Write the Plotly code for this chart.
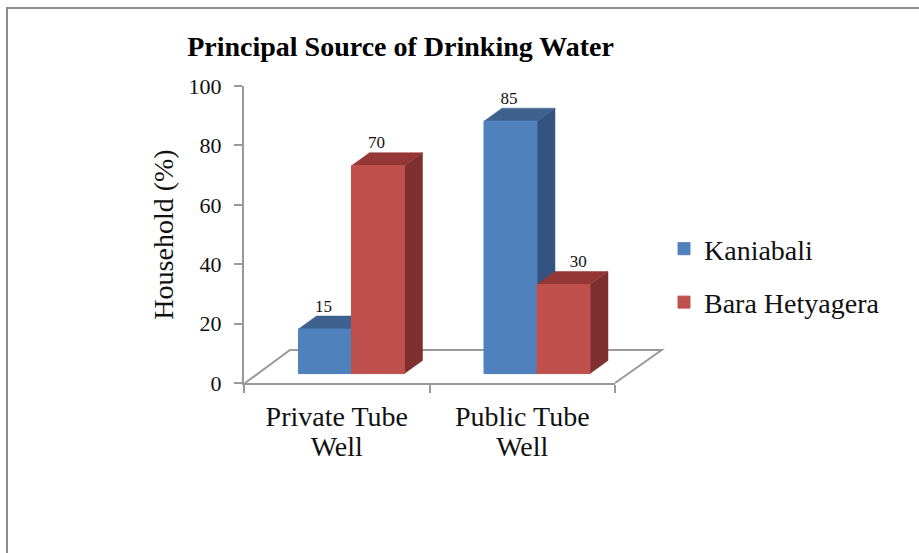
import plotly.graph_objects as go

categories = ["Private Tube<br>Well", "Public Tube<br>Well"]
series_names = ["Kaniabali", "Bara Hetyagera"]
kaniabali = [15, 85]
bara_hetyagera = [70, 30]
y_ticks = [0, 20, 40, 60, 80, 100]

W, H = 919, 553
L, R, T, B = 244, 615, 86, 383
FONT = "Liberation Serif"
TXT = "#111111"
AXIS = "#999999"
BLUE, BLUE_TOP, BLUE_SIDE = "#4F81BD", "#3E618E", "#335380"
RED, RED_TOP, RED_SIDE = "#C0504D", "#943735", "#7D302E"

BASE = 3.17          # lift of the bars above the floor front edge
BAR_W = 0.2857
SHIFT = 0.0795
DX, DY = 0.097, 4.38 # depth of the 3D extrusion in axis units

xs = [0, 1]
LABEL_NUDGE = {"k": [-0.008, -0.008], "b": [-0.008, 0.08]}  # label placement, in axis units


def px(x):
    return (x - L) / (R - L)


def py(y):
    return (B - y) / (B - T)


def face(points, color):
    path = "M " + " L ".join(f"{x} {y}" for x, y in points) + " Z"
    return dict(type="path", xref="x", yref="y", layer="below", path=path,
                fillcolor=color, line=dict(color=color, width=0.5))


shapes = [
    # outer frame: top and left only
    dict(type="path", xref="paper", yref="paper", layer="below",
         path=f"M {px(7)} {py(H + 5)} L {px(7)} {py(8)} L {px(W + 5)} {py(8)}",
         line=dict(color="#8C8C8C", width=2)),
    # chart floor
    dict(type="path", xref="paper", yref="paper", layer="below",
         path=f"M {px(245)} {py(383)} L {px(290)} {py(350)} L {px(661.7)} {py(350)} L {px(615)} {py(383)}",
         line=dict(color=AXIS, width=2)),
]

for values, offset, top_c, side_c in (
    (kaniabali, SHIFT - BAR_W, BLUE_TOP, BLUE_SIDE),
    (bara_hetyagera, SHIFT, RED_TOP, RED_SIDE),
):
    for x, v in zip(xs, values):
        x0, x1 = x + offset, x + offset + BAR_W
        t = BASE + v
        shapes.append(face([(x1, BASE), (x1 + DX, BASE + DY), (x1 + DX, t + DY), (x1, t)], side_c))
        shapes.append(face([(x0, t), (x1, t), (x1 + DX, t + DY), (x0 + DX, t + DY)], top_c))

fig = go.Figure()

for name, values, offset, color in (
    (series_names[0], kaniabali, SHIFT - BAR_W, BLUE),
    (series_names[1], bara_hetyagera, SHIFT, RED),
):
    fig.add_trace(go.Bar(
        x=xs, y=values, base=BASE, name=name, width=BAR_W, offset=offset,
        marker=dict(color=color, line=dict(color=color, width=1)),
        legendgroup=name,
    ))

for values, offset, nudge in (
    (kaniabali, SHIFT - BAR_W, LABEL_NUDGE["k"]),
    (bara_hetyagera, SHIFT, LABEL_NUDGE["b"]),
):
    fig.add_trace(go.Scatter(
        x=[x + offset + BAR_W / 2 + n for x, n in zip(xs, nudge)],
        y=[BASE + v + DY for v in values],
        mode="text", text=[str(v) for v in values], textposition="top center",
        textfont=dict(family=FONT, size=17, color=TXT),
        showlegend=False, hoverinfo="skip", cliponaxis=False,
    ))

tick_text = ["<br>".join(f'<span style="font-size:28px">{part}</span>' for part in c.split("<br>"))
             for c in categories]

fig.update_layout(
    width=W, height=H, autosize=False,
    margin=dict(l=L, r=W - R, t=T, b=H - B, pad=0),
    paper_bgcolor="white", plot_bgcolor="white",
    barmode="overlay",
    font=dict(family=FONT, color=TXT),
    title=dict(
        text="<b>Principal Source of Drinking Water</b>",
        x=400.5 / W, xanchor="center", y=1 - 46 / H, yanchor="middle",
        font=dict(family=FONT, size=28, color="#000000"),
    ),
    legend=dict(
        x=px(664), xanchor="left",
        y=py(224), yanchor="top",
        font=dict(family=FONT, size=28, color=TXT),
        tracegroupgap=14, itemwidth=30, bgcolor="rgba(0,0,0,0)",
        traceorder="grouped",
    ),
    xaxis=dict(
        range=[-0.5, 1.5], tickmode="array", tickvals=xs, ticktext=tick_text,
        ticks="outside", ticklen=13, tickcolor="rgba(0,0,0,0)",
        tickfont=dict(family=FONT, size=23, color=TXT),
        showgrid=False, zeroline=False, showline=True, linecolor=AXIS, linewidth=2,
        minor=dict(tickmode="array", tickvals=[-0.5, 0.5, 1.5], ticks="outside",
                   ticklen=8, tickwidth=2, tickcolor=AXIS, showgrid=False),
    ),
    yaxis=dict(
        range=[0, 100], tickmode="array", tickvals=y_ticks,
        ticks="outside", ticklen=8, tickwidth=2, tickcolor=AXIS,
        tickfont=dict(family=FONT, size=22, color=TXT), ticklabelstandoff=8,
        showgrid=False, zeroline=False, showline=True, linecolor=AXIS, linewidth=2,
        title=dict(text="Household (%)", font=dict(family=FONT, size=28, color=TXT), standoff=7),
    ),
    shapes=shapes,
)

fig.write_html("out.html", config={"displayModeBar": False},
               post_script="document.body.style.margin='0';")
